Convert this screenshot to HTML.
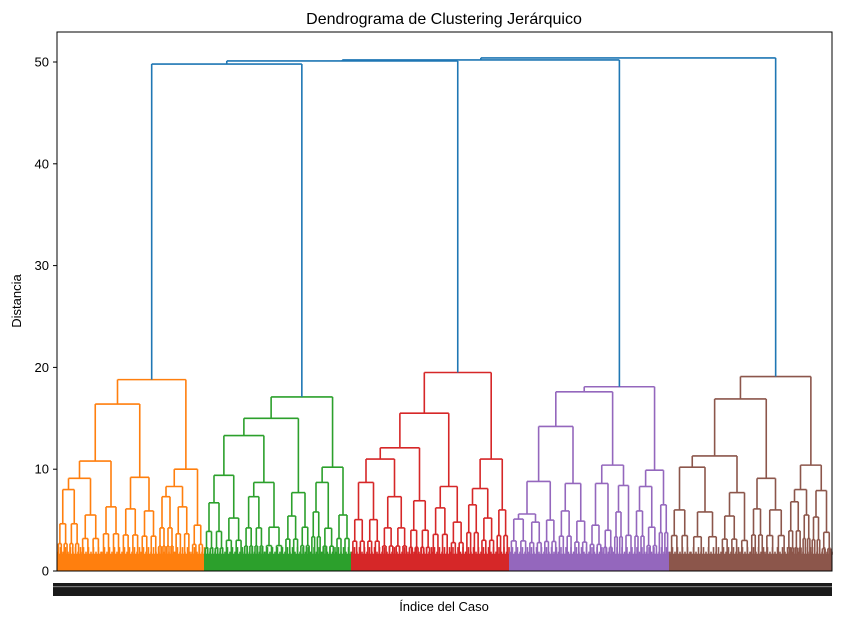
<!DOCTYPE html>
<html><head><meta charset="utf-8"><style>
html,body{margin:0;padding:0;background:#fff;}
svg{display:block;font-family:"Liberation Sans",sans-serif;}
</style></head><body>
<svg id="chart" width="844" height="624" viewBox="0 0 844 624">
<rect x="0" y="0" width="844" height="624" fill="#fff"/>
<text x="444" y="24" text-anchor="middle" font-size="16" fill="#000">Dendrograma de Clustering Jerárquico</text>
<text x="21" y="301" text-anchor="middle" font-size="13" transform="rotate(-90 21 301)">Distancia</text>
<text x="444" y="611" text-anchor="middle" font-size="13">Índice del Caso</text>
<g id="marks"></g>
<g id="axes"></g>
</svg>
<script>
// ---- data: cluster trees. internal node = [height, left, right]; leaf block = [height, leafCount]
const clusterNames = ['orange','green','red','purple','brown'];
const clusterColors = ['#ff7f0e','#2ca02c','#d62728','#9467bd','#8c564b'];
const treeOrange = [18.8,
  [16.4, [10.8, [9.1, [8.0,23], [5.5,21]], [6.3,20]], [9.2, [6.1,19], [5.9,18]]],
  [10.0, [8.3, [7.3,16], [6.3,17]], [4.5,13]]];
const treeGreen = [17.1,
  [15.0, [13.3, [9.4, [6.7,20], [5.2,19.5]], [8.7, [7.3,20.5], [4.3,20]]], [7.7, [5.4,15.5], [4.3,11]]],
  [10.2, [8.7, [5.8,11], [4.2,13.5]], [5.5,16]]];
const treeRed = [19.5,
  [15.5, [12.1, [11.0, [8.7,30], [7.3,27]], [6.9,23]], [8.3, [6.2,18.5], [4.8,15.5]]],
  [11.0, [8.1, [6.5,15], [5.2,15.5]], [6.0,13.5]]];
const treePurple = [18.1,
  [17.6, [14.2, [8.8, [5.6, [5.1,19], [4.8,15]], [5.0,14.5]], [8.6, [5.9,15.5], [4.9,15.5]]],
         [10.4, [8.6, [4.5,14], [4.0,11]], [8.4, [5.8,10], [3.5,10]]]],
  [9.9, [8.3, [5.9,12], [4.3,12.5]], [6.5,11]]];
const treeBrown = [19.1,
  [16.9, [11.3, [10.2, [6.0,21], [5.8,30]], [7.7, [5.4,19], [3.0,11]]], [9.1, [6.1,14], [6.0,23]]],
  [10.4, [8.0, [6.8,15], [5.5,9]], [7.9, [5.3,10], [3.8,11]]]];
const clusterTrees = [treeOrange, treeGreen, treeRed, treePurple, treeBrown];
const mergeHeights = [49.8, 50.1, 50.2, 50.4];
const yTicks = [0,10,20,30,40,50];

// ---- scales
const X0 = 57, X1 = 832, Y0 = 571, Y1 = 32;
const yPerUnit = (571 - 62) / 50;
function countLeaves(n){ return n.length === 2 ? n[1] : countLeaves(n[1]) + countLeaves(n[2]); }
const totalLeaves = clusterTrees.reduce((s,t)=>s+countLeaves(t),0);
const xs = u => X0 + u * (X1 - X0) / totalLeaves;
const ys = v => Y0 - v * yPerUnit;

const NS = 'http://www.w3.org/2000/svg';
const marks = document.getElementById('marks');
function line(x1,y1,x2,y2,color,name){
  const l = document.createElementNS(NS,'line');
  l.setAttribute('x1',x1); l.setAttribute('y1',y1); l.setAttribute('x2',x2); l.setAttribute('y2',y2);
  l.setAttribute('stroke',color); l.setAttribute('stroke-width','1.6');
  
  
  marks.appendChild(l);
}
// decorative dense sub-tree for a leaf block
function miniU(xa, xb, h, color, depth){
  const xl = xa + (xb-xa)/4, xr = xa + 3*(xb-xa)/4;
  line(xs(xl), ys(h), xs(xr), ys(h), color, 'link-bar');
  const sub = h * 0.58;
  [[xa,(xa+xb)/2,xl],[(xa+xb)/2,xb,xr]].forEach(([a,b,c])=>{
    if (sub > 2.2 && depth < 4) {
      line(xs(c), ys(h), xs(c), ys(sub), color, 'link-leg');
      miniU(a, b, sub, color, depth+1);
    } else {
      line(xs(c), ys(h), xs(c), ys(1.5), color, 'link-leg');
    }
  });
}
function drawBlock(start, w, h, color){
  miniU(start, start+w, h, color, 0);
  const r = document.createElementNS(NS,'rect');
  r.setAttribute('x', xs(start)); r.setAttribute('width', xs(start+w)-xs(start));
  r.setAttribute('y', ys(1.7)); r.setAttribute('height', ys(0)-ys(1.7));
  r.setAttribute('fill', color);
  
  
  marks.appendChild(r);
  for (let k = 0; k < w; k += 2.5) {
    const sh = 1.9 + ((k*7) % 5) * 0.18;
    line(xs(start+k+1), ys(1.6), xs(start+k+1), ys(sh), color, 'leaf-spike');
  }
  return start + w/2;
}
function drawNode(n, start, color){
  if (n.length === 2) {
    const x = drawBlock(start, n[1], n[0], color);
    return {x, h:n[0], end:start+n[1]};
  }
  const a = drawNode(n[1], start, color);
  const b = drawNode(n[2], a.end, color);
  line(xs(a.x), ys(a.h), xs(a.x), ys(n[0]), color, 'link-leg');
  line(xs(b.x), ys(b.h), xs(b.x), ys(n[0]), color, 'link-leg');
  line(xs(a.x), ys(n[0]), xs(b.x), ys(n[0]), color, 'link-bar');
  return {x:(a.x+b.x)/2, h:n[0], end:b.end};
}
let pos = 0, roots = [];
clusterTrees.forEach((t,i)=>{
  const r = drawNode(t, pos, clusterColors[i]);
  roots.push(r); pos = r.end;
});
// top-level merges (blue)
const blue = '#1f77b4';
let acc = roots[0];
for (let i = 1; i < roots.length; i++) {
  const b = roots[i], h = mergeHeights[i-1];
  line(xs(acc.x), ys(acc.h), xs(acc.x), ys(h), blue, 'merge-leg');
  line(xs(b.x), ys(b.h), xs(b.x), ys(h), blue, 'merge-leg');
  line(xs(acc.x), ys(h), xs(b.x), ys(h), blue, 'merge-bar');
  acc = {x:(acc.x+b.x)/2, h};
}

// ---- axes
const axes = document.getElementById('axes');
const frame = document.createElementNS(NS,'rect');
frame.setAttribute('x',X0); frame.setAttribute('y',Y1); frame.setAttribute('width',X1-X0); frame.setAttribute('height',Y0-Y1);
frame.setAttribute('fill','none'); frame.setAttribute('stroke','#000'); frame.setAttribute('stroke-width','1');


axes.appendChild(frame);
yTicks.forEach(v=>{
  const t = document.createElementNS(NS,'line');
  t.setAttribute('x1',X0-4); t.setAttribute('x2',X0); t.setAttribute('y1',ys(v)); t.setAttribute('y2',ys(v));
  t.setAttribute('stroke','#000');
  
  
  axes.appendChild(t);
  const tx = document.createElementNS(NS,'text');
  tx.setAttribute('x',X0-8); tx.setAttribute('y',ys(v)+4.5); tx.setAttribute('text-anchor','end');
  tx.setAttribute('font-size','13'); tx.textContent = v;
  
  
  axes.appendChild(tx);
});
// dense x tick label band
const band = document.createElementNS(NS,'rect');
band.setAttribute('x',53); band.setAttribute('y',583); band.setAttribute('width',X1-53); band.setAttribute('height',13);
band.setAttribute('fill','#1a1a1a');


axes.appendChild(band);
const band2 = document.createElementNS(NS,'rect');
band2.setAttribute('x',53); band2.setAttribute('y',586); band2.setAttribute('width',X1-53); band2.setAttribute('height',1.2);
band2.setAttribute('fill','#777');


axes.appendChild(band2);
</script>
</body></html>
